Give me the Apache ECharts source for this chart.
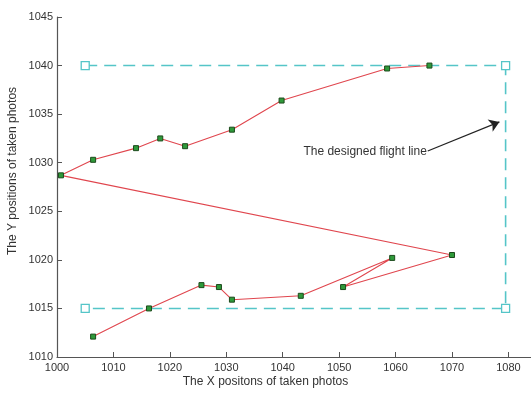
<!DOCTYPE html>
<html>
<head>
<meta charset="utf-8">
<script src="https://cdn.jsdelivr.net/npm/echarts@6/dist/echarts.min.js"></script>
<style>html,body{margin:0;padding:0;background:#fff}#c{width:531px;height:394px}</style>
</head>
<body>
<div id="c"></div>
<script>
// Actual photo positions, in flight order
var photoX = [1006.4, 1016.3, 1025.6, 1028.7, 1031.0, 1043.2, 1059.4, 1050.7, 1070.0,
              1000.7, 1006.4, 1014.0, 1018.3, 1022.7, 1031.0, 1039.8, 1058.5, 1066.0];
var photoY = [1012.1, 1015.0, 1017.4, 1017.2, 1015.9, 1016.3, 1020.2, 1017.2, 1020.5,
              1028.7, 1030.3, 1031.5, 1032.5, 1031.7, 1033.4, 1036.4, 1039.7, 1040.0];
// Designed flight line corners
var flightX = [1005, 1079.5, 1079.5, 1005];
var flightY = [1040, 1040, 1015, 1015];
// Tick labels
var xTicks = [1000, 1010, 1020, 1030, 1040, 1050, 1060, 1070, 1080];
var yTicks = [1010, 1015, 1020, 1025, 1030, 1035, 1040, 1045];
// Annotation arrow (start, end) and text
var arrowFrom = [1065.7, 1031.2];
var arrowTo = [1078.4, 1034.2];
var annotText = 'The designed flight line';

function zip(a, b) { return a.map(function (v, i) { return [v, b[i]]; }); }

var font = 'Liberation Sans, Arial, sans-serif';
var chart = echarts.init(document.getElementById('c'), null, {renderer: 'canvas'});
chart.setOption({
  animation: false,
  backgroundColor: '#fff',
  grid: {left: 57, right: 0, top: 17, bottom: 37, containLabel: false},
  xAxis: {
    type: 'value', min: 1000, max: 1084,
    axisLine: {lineStyle: {color: '#555', width: 1.2}},
    axisTick: {inside: true, length: 5, customValues: xTicks, lineStyle: {color: '#555'}},
    axisLabel: {customValues: xTicks, color: '#333', fontSize: 11, fontFamily: font, margin: 5,
      formatter: function (v) { return String(v); }},
    splitLine: {show: false}
  },
  yAxis: {
    type: 'value', min: 1010, max: 1045, interval: 5,
    axisLine: {show: true, lineStyle: {color: '#555', width: 1.2}},
    axisTick: {show: true, inside: true, length: 5, customValues: yTicks, lineStyle: {color: '#555'}},
    axisLabel: {customValues: yTicks, color: '#333', fontSize: 11, fontFamily: font, margin: 4,
      formatter: function (v) { return String(v); }},
    splitLine: {show: false}
  },
  graphic: [
    {type: 'text', left: 'center', style: {text: 'The X positons of taken photos', fill: '#333', font: '12px ' + font}, top: 376, z: 10},
    {type: 'text', x: 13, y: 171, rotation: Math.PI / 2, style: {text: 'The Y positions of taken photos', fill: '#333', font: '12px ' + font, align: 'center', verticalAlign: 'middle'}}
  ],
  series: [
    {
      type: 'line', name: 'designed',
      data: zip(flightX, flightY),
      symbol: 'rect', symbolSize: 8,
      itemStyle: {color: '#fff', borderColor: '#55c5c8', borderWidth: 1.3},
      lineStyle: {color: '#55c5c8', width: 1.6, type: [12, 7]},
      z: 2
    },
    {
      type: 'line', name: 'actual',
      data: zip(photoX, photoY),
      symbol: 'rect', symbolSize: 5,
      itemStyle: {color: '#2f9a3a', borderColor: '#1c4a1c', borderWidth: 1},
      lineStyle: {color: '#e0464e', width: 1.1},
      z: 3,
      markLine: {
        silent: true,
        symbol: ['none', 'arrow'], symbolSize: 10,
        lineStyle: {color: '#222', width: 1.2, type: 'solid'},
        label: {show: true, position: 'start', formatter: annotText, color: '#333', fontSize: 12, fontFamily: font, distance: 1},
        data: [[{coord: arrowFrom}, {coord: arrowTo}]]
      }
    }
  ]
});
</script>
</body>
</html>
